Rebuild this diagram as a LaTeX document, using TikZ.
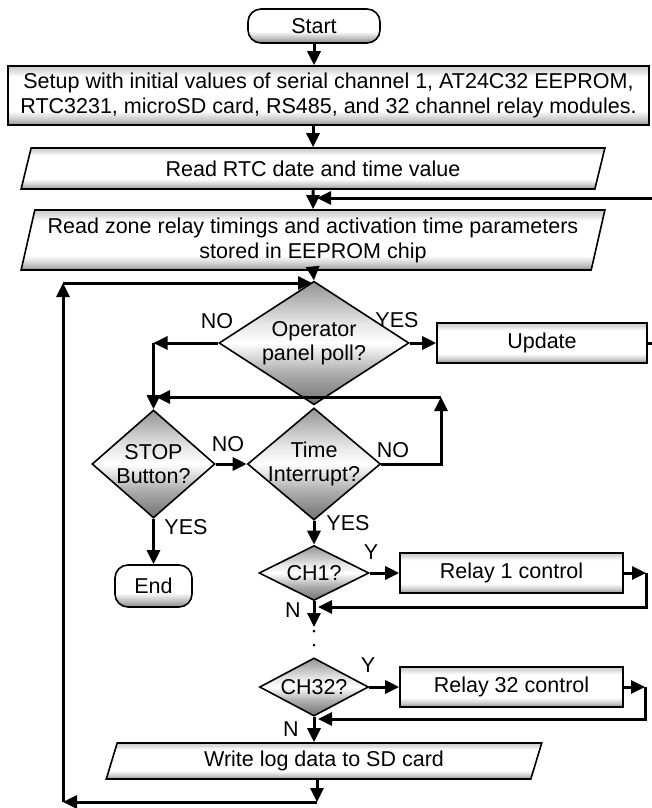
\documentclass[tikz,border=0pt]{standalone}
\usepackage{fontspec}
\setmainfont{Liberation Sans}
\usetikzlibrary{arrows.meta,shapes.geometric,calc}
\definecolor{ink}{HTML}{000000}
\definecolor{bevel}{HTML}{8C8C8C}
\pgfdeclareverticalshading{boxbevel}{100bp}{
  color(0bp)=(bevel!95); color(25bp)=(bevel!95); color(30bp)=(bevel!45);
  color(37bp)=(white); color(66bp)=(white); color(71bp)=(bevel!30);
  color(75bp)=(bevel!45); color(100bp)=(bevel!45)}
\pgfdeclareverticalshading{diabevel}{100bp}{
  color(0bp)=(black!55); color(25bp)=(black!55); color(38bp)=(black!32);
  color(50bp)=(white); color(58bp)=(black!10); color(75bp)=(black!42);
  color(100bp)=(black!42)}
\pgfdeclareverticalshading{endbevel}{100bp}{
  color(0bp)=(black!45); color(25bp)=(black!45); color(42bp)=(white);
  color(100bp)=(white)}
\tikzset{
  process/.style={
    draw=ink,
    rectangle,
    line width=1.6pt,
    align=center,
    inner sep=2pt,
    font=\fontsize{21.5}{25}\selectfont,
    shading=boxbevel
  },
  inout/.style={
    process,
    trapezium,
    trapezium left angle=75,
    trapezium right angle=105,
    trapezium stretches=true
  },
  terminal/.style={
    process,
    rounded corners=13pt,
    shading=endbevel
  },
  decision/.style={
    draw=ink,
    diamond,
    line width=1.6pt,
    align=center,
    inner sep=-6pt,
    font=\fontsize{21.5}{24}\selectfont,
    shading=diabevel
  },
  arrow/.style={
    -{Triangle[length=14pt,width=13pt]},
    draw=ink,
    line width=3pt
  },
  dots/.style={
    draw=ink,
    line width=3pt,
    line cap=round,
    dash pattern=on 0pt off 14pt
  },
  lbl/.style={
    font=\fontsize{21.5}{24}\selectfont,
    inner sep=0pt
  }
}
\begin{document}
\begin{tikzpicture}[x=1pt,y=-1pt]
  \useasboundingbox (0,0) rectangle (651,808);
  \fill[white] (0,0) rectangle (651,808);

  \node[terminal, minimum width=132pt, minimum height=34pt] (start) at (314,26) {Start};
  \node[process, minimum width=641pt, minimum height=59pt] (setup) at (328.5,95.5)
    {Setup with initial values of serial channel 1, AT24C32 EEPROM,\\
     RTC3231, microSD card, RS485, and 32 channel relay modules.};
  \node[inout, minimum width=586pt, minimum height=41pt] (rtc) at (313,168.5)
    {Read RTC date and time value};
  \node[inout, minimum width=588pt, minimum height=60pt] (zone) at (313,240)
    {Read zone relay timings and activation time parameters\\
     stored in EEPROM chip};

  \node[decision, minimum width=190pt, minimum height=94pt] (poll) at (314,343)
    {Operator\\panel poll?};
  \node[process, minimum width=210pt, minimum height=40pt] (update) at (542,343)
    {Update};

  \node[decision, minimum width=123pt, minimum height=108pt] (stop) at (153.5,464)
    {STOP\\Button?};
  \node[decision, minimum width=133pt, minimum height=106pt] (tint) at (314,464)
    {Time\\Interrupt?};
  \node[terminal, minimum width=77pt, minimum height=42pt] (end) at (153.5,586)
    {End};

  \node[decision, minimum width=110pt, minimum height=55pt] (chone) at (314,573)
    {CH1?};
  \node[process, minimum width=223pt, minimum height=40pt] (relayone) at (511.5,573)
    {Relay 1 control};
  \node[decision, minimum width=109pt, minimum height=56pt] (chlast) at (314,687)
    {CH32?};
  \node[process, minimum width=223pt, minimum height=40pt] (relaylast) at (511.5,687)
    {Relay 32 control};
  \node[inout, minimum width=436pt, minimum height=36pt] (log) at (324,761)
    {Write log data to SD card};

  \node[lbl] (pollno) at (217,321) {NO};
  \node[lbl] (pollyes) at (397,320) {YES};
  \node[lbl] (stopno) at (228,444) {NO};
  \node[lbl] (tintno) at (393,450) {NO};
  \node[lbl] (stopyes) at (186,527) {YES};
  \node[lbl] (tintyes) at (348,523) {YES};
  \node[lbl] (oney) at (371,552) {Y};
  \node[lbl] (onen) at (293,610) {N};
  \node[lbl] (lasty) at (368,665) {Y};
  \node[lbl] (lastn) at (291,729) {N};

  \coordinate (fbin) at (317,198);
  \coordinate (pollleft) at (153.5,343);
  \coordinate (tintup) at (441,397);
  \coordinate (stopin) at (156,397);
  \coordinate (oneturn) at (646,573);
  \coordinate (onein) at (318,607);
  \coordinate (onedown) at (314,627);
  \coordinate (lastturn) at (645,687);
  \coordinate (lastin) at (318,719);
  \coordinate (logout) at (317,802);
  \coordinate (loopbl) at (63,802);
  \coordinate (looptl) at (63,283);
  \coordinate (loopin) at (312,283);

  \draw[arrow] (start.south) -- (start.south |- setup.north);
  \draw[arrow] (setup.south -| rtc.north) -- (rtc.north);
  \draw[arrow] (rtc.south) -- (zone.north);
  \draw[arrow] (update.east) -- ++(12,0) |- (fbin);
  \draw[arrow] (zone.south) -- (poll.north);

  \draw[arrow] (poll.west) -- (pollleft);
  \draw[arrow] (pollleft) -- (stop.north);
  \draw[arrow] (poll.east) -- (update.west);
  \draw[arrow] (stop.east) -- (tint.west);
  \draw[arrow] (stop.south) -- (end.north);
  \draw[arrow] (tint.east) -| (tintup);
  \draw[arrow] (tintup) -- (stopin);
  \draw[arrow] (tint.south) -- (chone.north);

  \draw[arrow] (chone.east) -- (relayone.west);
  \draw[arrow] (relayone.east) -- (oneturn);
  \draw[arrow] (oneturn) |- (onein);
  \draw[arrow] (chone.south) -- (onedown);
  \draw[dots] ($(onedown)+(0,4)$) -- (chlast.north);

  \draw[arrow] (chlast.east) -- (relaylast.west);
  \draw[arrow] (relaylast.east) -- (lastturn);
  \draw[arrow] (lastturn) |- (lastin);
  \draw[arrow] (chlast.south) -- (chlast.south |- log.north);

  \draw[arrow] (log.south -| logout) -- (logout);
  \draw[arrow] (logout) -- (loopbl);
  \draw[arrow] (loopbl) -- (looptl);
  \draw[arrow] (looptl) -- (loopin);
\end{tikzpicture}
\end{document}
